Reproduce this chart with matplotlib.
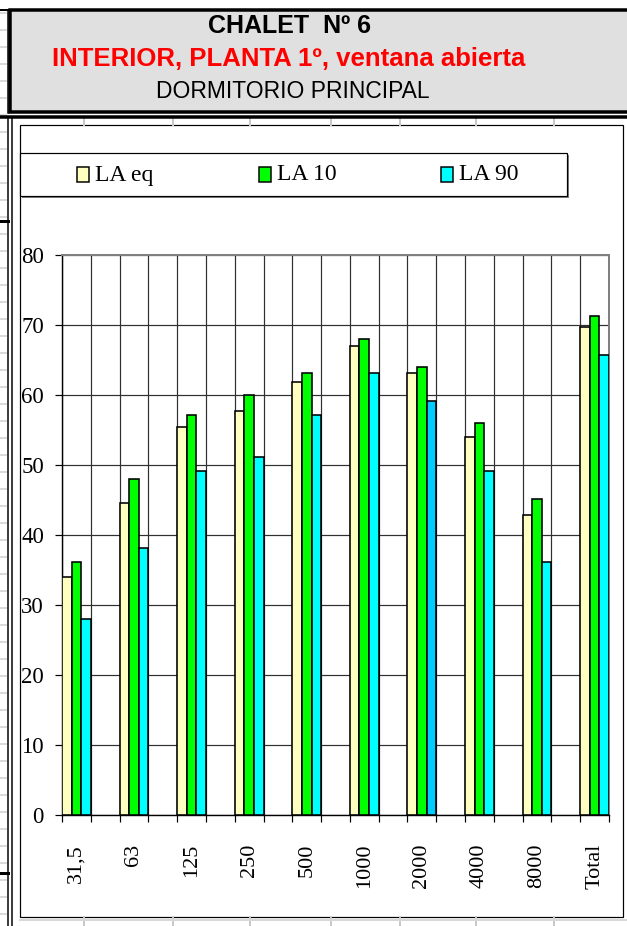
import matplotlib
matplotlib.use("Agg")
import matplotlib.pyplot as plt
from matplotlib.patches import Rectangle

# Datos (dB(A) por banda de octava)
bandas = ['31,5', '63', '125', '250', '500', '1000', '2000', '4000', '8000', 'Total']
la_eq = [33.9, 44.5, 55.4, 57.7, 61.8, 67.0, 63.1, 54.0, 42.8, 69.7]
la_10 = [36.1, 48.0, 57.1, 60.0, 63.1, 68.0, 64.0, 56.0, 45.1, 71.2]
la_90 = [28.0, 38.1, 49.1, 51.1, 57.1, 63.1, 59.1, 49.1, 36.1, 65.7]

series = ['LA eq', 'LA 10', 'LA 90']
colores = ['#ffffc0', '#00ff00', '#00ffff']

titulo1 = 'CHALET  Nº 6'
titulo2 = 'INTERIOR, PLANTA 1º, ventana abierta'
titulo3 = 'DORMITORIO PRINCIPAL'

W, H = 627, 926
PX = 0.72  # puntos por pixel a dpi 100

fig = plt.figure(figsize=(W / 100, H / 100), dpi=100)
fig.patch.set_facecolor('white')

# Fondo tipo hoja de cálculo, en coordenadas de pixel
bg = fig.add_axes([0, 0, 1, 1], zorder=0)
bg.set_xlim(0, W)
bg.set_ylim(H, 0)
bg.axis('off')

# rayitas grises de la columna izquierda
for y in range(13, H, 17):
    bg.plot([0, 6], [y, y], color='#dadada', lw=2 * PX)
for x in [84, 173, 250, 331, 400, 476, 554]:
    bg.plot([x, x], [119, 125], color='#c8c8c8', lw=2 * PX)
    bg.plot([x, x], [917, 926], color='#c8c8c8', lw=2 * PX)
bg.plot([20, W], [919.5, 919.5], color='#d8d8d8', lw=2 * PX)

# caja del encabezado (sigue más allá del borde derecho)
bg.add_patch(Rectangle((10, 9.5), W + 20, 102, facecolor='#e0e0e0',
                       edgecolor='black', lw=3.5 * PX))
bg.plot([0, 8], [9.5, 9.5], color='black', lw=2 * PX)
bg.plot([7.5, 7.5], [9.5, 113], color='black', lw=1.5 * PX)
bg.plot([0, W], [117, 117], color='black', lw=3.5 * PX)
bg.plot([7.5, 7.5], [117, H], color='black', lw=1.5 * PX)
bg.plot([11.5, 11.5], [117, H], color='black', lw=1.5 * PX)
bg.plot([0, 8], [221, 221], color='black', lw=3 * PX)
bg.plot([0, 8], [873, 873], color='black', lw=3 * PX)

bg.text(289, 26, titulo1, ha='center', va='center', fontsize=18,
        fontweight='bold', family='Liberation Sans', color='black')
bg.text(289, 59, titulo2, ha='center', va='center', fontsize=18.5,
        fontweight='bold', family='Liberation Sans', color='#ff0000')
bg.text(293, 92, titulo3, ha='center', va='center', fontsize=16.5,
        family='Liberation Sans', color='black')

# área del gráfico
bg.add_patch(Rectangle((20, 125), 603, 792, facecolor='white',
                       edgecolor='black', lw=1.2 * PX))

# leyenda dibujada a mano (sombra + marco)
bg.add_patch(Rectangle((22, 155), 547, 43, facecolor='#808080', edgecolor='none'))
bg.add_patch(Rectangle((20, 153), 547, 43, facecolor='white',
                       edgecolor='black', lw=1.2 * PX))
for k, (nombre, col) in enumerate(zip(series, colores)):
    x0 = 77 + k * 182
    bg.add_patch(Rectangle((x0, 167), 12, 15, facecolor=col,
                           edgecolor='black', lw=1.5 * PX))
    bg.text(x0 + 18, 175, nombre, ha='left', va='center', fontsize=17,
            family='Liberation Serif')

# ejes de barras: 19 categorías, las de datos en posiciones pares
ax = fig.add_axes([62 / W, 1 - 814.7 / H, 547 / W, 560 / H], zorder=1)
ax.patch.set_alpha(0)
pos = [2 * i for i in range(len(bandas))]
ancho = 1 / 3
for k, (vals, col) in enumerate(zip([la_eq, la_10, la_90], colores)):
    xs = [p + (k - 1) * ancho for p in pos]
    barras = ax.bar(xs, vals, width=ancho, color=col, edgecolor='black',
                    linewidth=1.6 * PX, zorder=3)
    if k == 2:
        barras[6].set_facecolor('#00ccff')

ax.set_xlim(-0.5, 18.5)
ax.set_ylim(0, 80)
ax.set_yticks(range(0, 81, 10))
ax.set_yticklabels([str(v) for v in range(0, 81, 10)], fontsize=16.5,
                   family='Liberation Serif')
ax.set_xticks(pos)
ax.set_xticklabels(bandas, rotation=90, fontsize=16, family='Liberation Serif',
                   va='top')
ax.set_xticks([b - 0.5 for b in range(20)], minor=True)
ax.tick_params(axis='x', which='major', length=0, pad=21)
ax.tick_params(axis='x', which='minor', length=5, width=1.2 * PX, direction='out')
ax.tick_params(axis='y', length=5, width=1.2 * PX, direction='out', pad=8)

ax.grid(True, axis='y', color='#303030', lw=1.2 * PX, zorder=1)
ax.grid(True, axis='x', which='minor', color='#303030', lw=1.2 * PX, zorder=1)
ax.set_axisbelow(True)
for lado in ['left', 'bottom']:
    ax.spines[lado].set_color('black')
    ax.spines[lado].set_linewidth(1.4 * PX)
for lado in ['top', 'right']:
    ax.spines[lado].set_color('#808080')
    ax.spines[lado].set_linewidth(2 * PX)

fig.savefig('out.png', dpi=100)
